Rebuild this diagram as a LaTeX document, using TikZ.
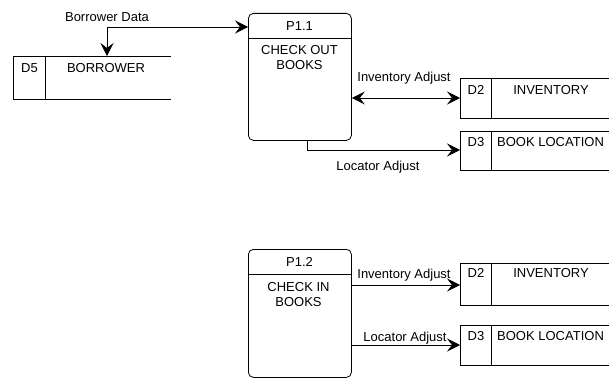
\documentclass[tikz,border=0pt]{standalone}
\usepackage{fontspec}
\setmainfont{Liberation Sans}
\usetikzlibrary{arrows.meta}
\begin{document}
\begin{tikzpicture}[x=1pt,y=-1pt,
  every node/.style={font=\fontsize{13}{15}\selectfont, inner sep=0pt, align=center},
  ln/.style={line width=0.8pt},
  proc/.style={ln, draw, rounded corners=5pt, minimum width=103pt, anchor=north west},
  store/.style={minimum height=41pt, anchor=north west},
  tip/.tip={Stealth[length=13pt,width=13pt,inset=5pt]},
  arr/.style={ln, -tip},
  arrb/.style={ln, tip-tip}]
\useasboundingbox (0,0) rectangle (609,377);

% ---------- processes ----------
\node[proc, minimum height=127pt] (p11) at (248,13) {};
\draw[ln] (248,38) -- (351,38);
\node (p11id) at (299.5,26) {P1.1};
\node (p11t) at (299.5,57.5) {CHECK OUT\\BOOKS};

\node[proc, minimum height=128pt] (p12) at (248,249) {};
\draw[ln] (248,274) -- (351,274);
\node (p12id) at (299.5,262) {P1.2};
\node (p12t) at (298.5,295) {CHECK IN\\BOOKS};

% ---------- stores ----------
\node[store, minimum width=158pt, minimum height=43pt] (d5) at (13,56) {};
\draw[ln] (d5.north east) -- (d5.north west) -- (d5.south west) -- (d5.south east);
\draw[ln] (45.5,56) -- (45.5,99);
\node (d5id) at (29.5,68) {D5};
\node (d5t) at (106,68) {BORROWER};

\node[store, minimum width=149pt, minimum height=40pt] (d2a) at (460,78) {};
\draw[ln] (d2a.north east) -- (d2a.north west) -- (d2a.south west) -- (d2a.south east);
\draw[ln] (491,78) -- (491,118);
\node (d2aid) at (476,90) {D2};
\node (d2at) at (551,90) {INVENTORY};

\node[store, minimum width=149pt, minimum height=39pt] (d3a) at (460,131) {};
\draw[ln] (d3a.north east) -- (d3a.north west) -- (d3a.south west) -- (d3a.south east);
\draw[ln] (491,131) -- (491,170);
\node (d3aid) at (476,142) {D3};
\node[anchor=west] (d3at) at (497,142) {BOOK LOCATION};

\node[store, minimum width=149pt, minimum height=42pt] (d2b) at (460,263) {};
\draw[ln] (d2b.north east) -- (d2b.north west) -- (d2b.south west) -- (d2b.south east);
\draw[ln] (491,263) -- (491,305);
\node (d2bid) at (476,273) {D2};
\node (d2bt) at (551,273) {INVENTORY};

\node[store, minimum width=149pt, minimum height=40pt] (d3b) at (460,325) {};
\draw[ln] (d3b.north east) -- (d3b.north west) -- (d3b.south west) -- (d3b.south east);
\draw[ln] (491,325) -- (491,365);
\node (d3bid) at (476,336) {D3};
\node[anchor=west] (d3bt) at (497,336) {BOOK LOCATION};

% ---------- flows ----------
\coordinate (bd) at (107,27);
\draw[arr] (bd) -- (p11.west |- bd);
\draw[arr] (bd) -- (d5.north -| bd);
\node (bdl) at (107,17) {Borrower Data};

\coordinate (inva) at (0,98);
\draw[arrb] (p11.east |- inva) -- (d2a.west |- inva);
\node (inval) at (404,78) {Inventory Adjust};

\coordinate (loca) at (307,140);
\coordinate (locb) at (307,150);
\draw[arr] (loca) -- (locb) -- (d3a.west |- locb);
\node (local) at (378,167) {Locator Adjust};

\coordinate (invb) at (0,285);
\draw[arr] (p12.east |- invb) -- (d2b.west |- invb);
\node (invbl) at (404,275) {Inventory Adjust};

\coordinate (locc) at (0,345);
\draw[arr] (p12.east |- locc) -- (d3b.west |- locc);
\node (loccl) at (405,338) {Locator Adjust};
\end{tikzpicture}
\end{document}
